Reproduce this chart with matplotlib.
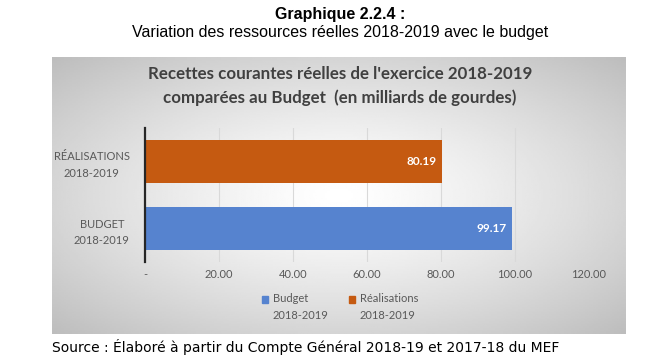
import numpy as np
import matplotlib.pyplot as plt
from matplotlib.patches import Patch

categories = ['BUDGET\n2018-2019', 'RÉALISATIONS\n2018-2019']
values = [99.17, 80.19]
colors = ['#5683CF', '#C55A11']
legend_labels = ['Budget\n2018-2019', 'Réalisations\n2018-2019']
xticks = [0, 20, 40, 60, 80, 100, 120]
xtick_labels = ['-', '20.00', '40.00', '60.00', '80.00', '100.00', '120.00']

W, H = 661, 361
fig = plt.figure(figsize=(W / 100, H / 100), dpi=100)
fig.patch.set_facecolor('white')

def fx(px):
    return px / W

def fy(py):
    return 1 - py / H

# chart box with radial grey gradient
box_l, box_r, box_t, box_b = 52, 626, 57, 334
bg = fig.add_axes([fx(box_l), fy(box_b), fx(box_r - box_l), (box_b - box_t) / H])
gx = np.linspace(-1, 1, 300)
gy = np.linspace(-1, 1, 160)
XX, YY = np.meshgrid(gx, gy)
r = np.sqrt(XX ** 2 + YY ** 2) / np.sqrt(2)
shade = 1.0 - 0.26 * r ** 1.3
bg.imshow(shade, cmap='gray', vmin=0, vmax=1, aspect='auto', extent=[0, 1, 0, 1])
bg.set_axis_off()

# main axes
ax_l, ax_r, ax_t, ax_b = 145, 589, 128, 262
ax = fig.add_axes([fx(ax_l), fy(ax_b), fx(ax_r - ax_l), (ax_b - ax_t) / H])
ax.patch.set_alpha(0)
ypos = np.arange(len(categories))
bars = ax.barh(ypos, values, height=0.63, color=colors, zorder=3)
ax.set_xlim(0, 120)
ax.set_ylim(-0.5, 1.5)
ax.set_xticks(xticks)
ax.set_xticklabels(xtick_labels)
ax.set_yticks(ypos)
ax.set_yticklabels(categories)
ax.tick_params(length=0, labelsize=8, colors='#595959')
ax.tick_params(axis='x', pad=5)
ax.tick_params(axis='y', pad=11)
for lab in ax.get_xticklabels() + ax.get_yticklabels():
    lab.set_family('Lato')
for lab in ax.get_yticklabels():
    lab.set_multialignment('center')
    lab.set_linespacing(1.6)
ax.grid(axis='x', color='#d9d9d9', linewidth=0.8, zorder=0)
for s in ['top', 'right', 'bottom']:
    ax.spines[s].set_visible(False)
ax.spines['left'].set_color('#262626')
ax.spines['left'].set_linewidth(1.6)
ax.spines['left'].set_zorder(4)

for b, v in zip(bars, values):
    ax.text(v - 1.5, b.get_y() + b.get_height() / 2, f'{v:.2f}', ha='right', va='center',
            color='white', fontsize=8.5, fontweight='bold', family='Lato', zorder=5)

handles = [Patch(color=c) for c in colors]
leg = fig.legend(handles, legend_labels, loc='center', bbox_to_anchor=(fx(340), fy(307)), ncol=2,
                 frameon=False, prop={'family': 'Lato', 'size': 8}, handlelength=0.6, handleheight=0.6,
                 handletextpad=0.4, columnspacing=1.8, labelcolor='#595959')
for t in leg.get_texts():
    t.set_linespacing(1.6)
# put the colour squares level with the first text line
for h in leg.legend_handles:
    h.set_y(h.get_y() + 5.5)

fig.text(fx(340), fy(86), "Recettes courantes réelles de l'exercice 2018-2019\ncomparées au Budget  (en milliards de gourdes)",
         ha='center', va='center', fontsize=12.2, fontweight='bold', color='#404040', family='Lato',
         linespacing=1.55)

fig.text(fx(340), fy(14), 'Graphique 2.2.4 :', ha='center', va='center', fontsize=11.5,
         fontweight='bold', family='Liberation Sans')
fig.text(fx(340), fy(32), 'Variation des ressources réelles 2018-2019 avec le budget', ha='center',
         va='center', fontsize=11.5, family='Liberation Sans')
fig.text(fx(52), fy(347), 'Source : Élaboré à partir du Compte Général 2018-19 et 2017-18 du MEF',
         ha='left', va='center', fontsize=10, family='DejaVu Sans')

fig.savefig('out.png', dpi=100)
